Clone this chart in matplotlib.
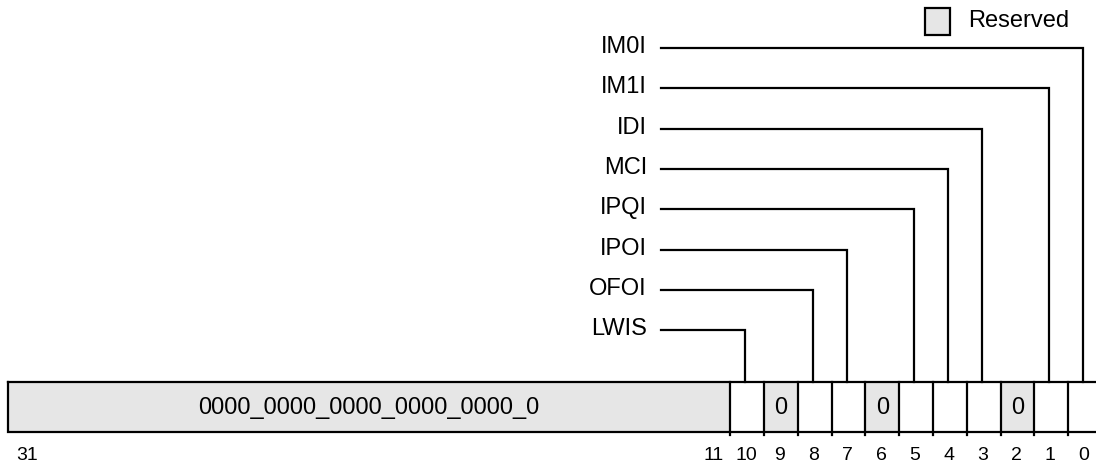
import matplotlib.pyplot as plt
from matplotlib.patches import Rectangle

plt.rcParams['font.family'] = ['Liberation Sans', 'DejaVu Sans']

# register contents
field_names = ['IM0I', 'IM1I', 'IDI', 'MCI', 'IPQI', 'IPOI', 'OFOI', 'LWIS']
field_bits = [0, 1, 3, 4, 5, 7, 8, 10]
reserved_bits = [2, 6, 9]
reserved_value = '0'
upper_text = '0000_0000_0000_0000_0000_0'
upper_msb, upper_lsb = 31, 11
bit_labels = list(range(10, -1, -1))

# layout (pixels)
W, H = 1096, 465
reg_left, reg_right = 8, 1102
reg_top, reg_bot = 382, 432
bw = 33.8
gray = '#e6e6e6'


def bit_left(b):
    return reg_right - (b + 1) * bw


def bit_center(b):
    return reg_right - (b + 0.5) * bw


fig = plt.figure(figsize=(W / 100, H / 100), dpi=100)
ax = fig.add_axes([0, 0, 1, 1])
ax.set_xlim(0, W)
ax.set_ylim(H, 0)
ax.axis('off')

# upper reserved field
split = bit_left(upper_lsb - 1)
ax.add_patch(Rectangle((reg_left, reg_top), split - reg_left, reg_bot - reg_top,
                       facecolor=gray, edgecolor='none'))
ax.text((reg_left + split) / 2, (reg_top + reg_bot) / 2 + 1, upper_text,
        ha='center', va='center', fontsize=17)

# reserved single bits
for b in reserved_bits:
    ax.add_patch(Rectangle((bit_left(b), reg_top), bw, reg_bot - reg_top,
                           facecolor=gray, edgecolor='none'))
    ax.text(bit_center(b), (reg_top + reg_bot) / 2 + 1, reserved_value,
            ha='center', va='center', fontsize=17)

# outline and dividers
lw = 1.6
ax.plot([reg_left, reg_right, reg_right, reg_left, reg_left],
        [reg_top, reg_top, reg_bot, reg_bot, reg_top], color='black', lw=lw,
        solid_joinstyle='miter')
for b in range(upper_lsb - 1, 0, -1):
    x = bit_left(b - 1)
    ax.plot([x, x], [reg_top, reg_bot + 3], color='black', lw=lw)
ax.plot([split, split], [reg_top, reg_bot + 3], color='black', lw=lw)

# bit numbers
num_y = 455
ax.text(27, num_y, str(upper_msb), ha='center', va='center', fontsize=14)
ax.text(split - 17, num_y, str(upper_lsb), ha='center', va='center', fontsize=14)
for b in bit_labels:
    ax.text(bit_center(b) - 1, num_y, str(b), ha='center', va='center', fontsize=14)

# leader lines
y0, dy = 48, 40.3
for i, (name, b) in enumerate(zip(field_names, field_bits)):
    y = y0 + i * dy
    x = bit_center(b) - 2
    ax.text(647, y + 5, name, ha='right', va='baseline', fontsize=17)
    ax.plot([661, x, x], [y, y, reg_top], color='black', lw=lw,
            solid_joinstyle='miter')

# legend
ax.add_patch(Rectangle((925, 8), 25, 27, facecolor=gray, edgecolor='black', lw=lw))
ax.text(968, 27, 'Reserved', ha='left', va='baseline', fontsize=17)

fig.savefig('out.png', dpi=100)
